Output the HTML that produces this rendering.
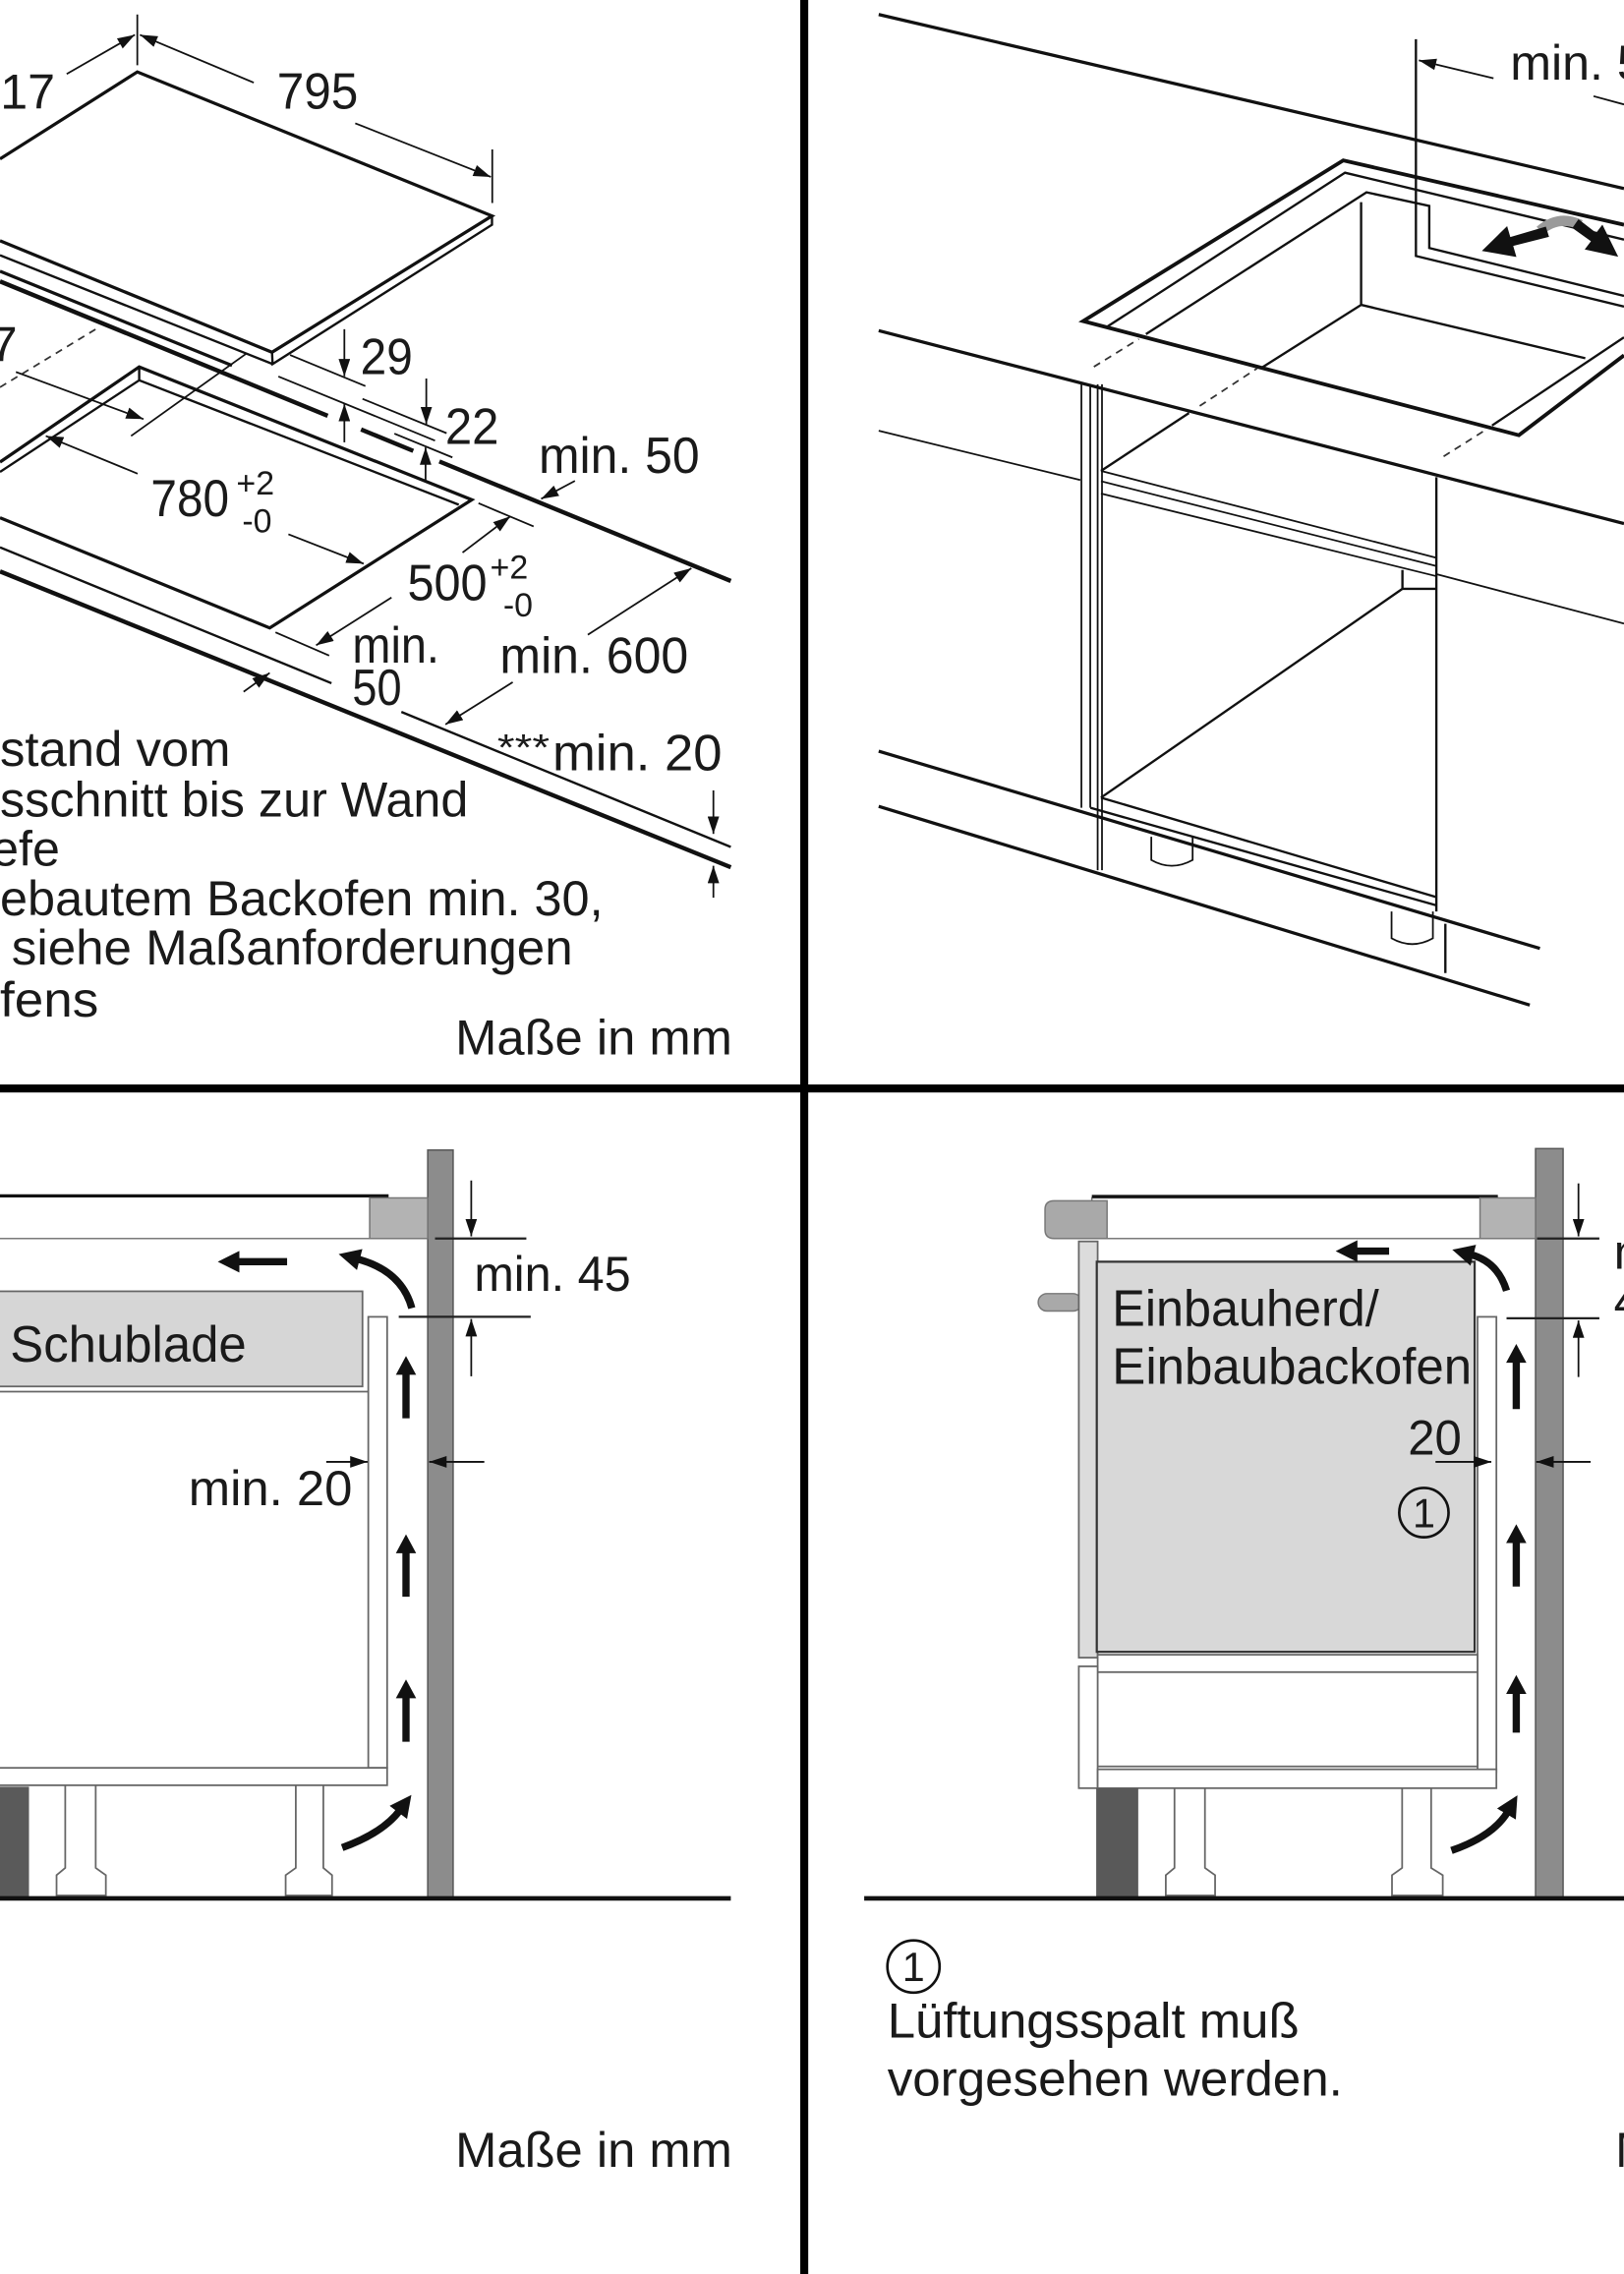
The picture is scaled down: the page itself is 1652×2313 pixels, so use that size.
<!DOCTYPE html>
<html><head><meta charset="utf-8"><style>
html,body{margin:0;padding:0;background:#fff;}
svg{display:block;}
text{font-family:"Liberation Sans",Arial,sans-serif;fill:#1a1a1a;}
.l{stroke:#111;fill:none;stroke-width:2.2;}
.m{stroke:#111;fill:none;stroke-width:1.6;}
.t{stroke:#111;fill:none;stroke-width:1.2;}
.k{stroke:#111;fill:none;stroke-width:3;}
.d{stroke:#333;fill:none;stroke-width:1.2;stroke-dasharray:5 4;}
.g{stroke:#666;stroke-width:1.2;}
</style></head><body>
<svg xmlns="http://www.w3.org/2000/svg" width="1652" height="2313" viewBox="0 0 1120 1568" preserveAspectRatio="none">
<defs>
<marker id="ah" viewBox="0 0 12 8" refX="12" refY="4" markerWidth="12" markerHeight="8" markerUnits="userSpaceOnUse" orient="auto"><path d="M0,0 L12,4 L0,8 Z" fill="#111"/></marker>
<marker id="bh" viewBox="0 0 14 14" refX="2" refY="7" markerWidth="15" markerHeight="15" markerUnits="userSpaceOnUse" orient="auto"><path d="M0,0 L14,7 L0,14 Z" fill="#111"/></marker>
</defs>
<rect x="0" y="0" width="1120" height="1568" fill="#fff"/>

<!-- ============ TOP LEFT ============ -->
<path class="l" d="M0,109.6 L94.7,49.6 L339.3,148.9 L187.6,242.9 L0,166"/>
<path class="m" d="M339.3,148.9 L339.3,155 L188,251 L187.6,242.9 M188,251 L0,176"/>
<path class="l" d="M0,187 L160,252"/>
<path class="k" d="M0,194 L226,286.7 M249,296.1 L285,310.9 M303,318.2 L504,400.6"/>
<path class="t" d="M200,244.8 L252,266.2 M192,259.6 L300,303.8 M250,275 L308,298.7 M272,299 L312,315.4"/>
<line class="t" x1="237.5" y1="227" x2="237.5" y2="259.5" marker-end="url(#ah)"/>
<line class="t" x1="237.5" y1="305" x2="237.5" y2="278.5" marker-end="url(#ah)"/>
<line class="t" x1="294" y1="261" x2="294" y2="292.5" marker-end="url(#ah)"/>
<line class="t" x1="293.5" y1="332" x2="293.5" y2="308.5" marker-end="url(#ah)"/>
<path class="t" d="M94.7,10 L94.7,45 M339.5,103 L339.5,140"/>
<line class="t" x1="46" y1="51" x2="93" y2="24" marker-end="url(#ah)"/>
<line class="t" x1="175" y1="57" x2="96.5" y2="24" marker-end="url(#ah)"/>
<line class="t" x1="245" y1="85" x2="338.5" y2="122" marker-end="url(#ah)"/>
<path class="d" d="M0,267 L66,227"/>
<path class="t" d="M90.4,300.6 L169.5,244.1"/>
<line class="t" x1="11" y1="256.5" x2="99" y2="289" marker-end="url(#ah)"/>
<path class="l" d="M0,318.6 L96,253 L325.4,344.6 L186,433 L0,357"/>
<path class="m" d="M0,325.4 L96,262.2 L316.4,348 M96,253 L96,262.2"/>
<line class="t" x1="94.9" y1="326.6" x2="31.6" y2="300.6" marker-end="url(#ah)"/>
<line class="t" x1="198.9" y1="368.4" x2="250.8" y2="388.7" marker-end="url(#ah)"/>
<path class="t" d="M190,436 L227,452 M330,347 L368,363"/>
<line class="t" x1="270" y1="412" x2="218" y2="445" marker-end="url(#ah)"/>
<line class="t" x1="319" y1="381" x2="352" y2="356" marker-end="url(#ah)"/>
<line class="t" x1="396.5" y1="331.6" x2="373.2" y2="344" marker-end="url(#ah)"/>
<line class="t" x1="168" y1="477" x2="186" y2="464" marker-end="url(#ah)"/>
<line class="t" x1="405.4" y1="437.7" x2="476.8" y2="391.8" marker-end="url(#ah)"/>
<line class="t" x1="353.6" y1="470.4" x2="307.2" y2="499.5" marker-end="url(#ah)"/>
<path class="m" d="M0,377.4 L228.6,471.1 M276.8,490.9 L504,584"/>
<path class="k" d="M0,394 L504,598"/>
<line class="t" x1="492" y1="545" x2="492" y2="575" marker-end="url(#ah)"/>
<line class="t" x1="492" y1="619" x2="492" y2="597" marker-end="url(#ah)"/>
<text x="38" y="75" font-size="34" text-anchor="end">517</text>
<text x="191" y="75" font-size="35" textLength="56" lengthAdjust="spacingAndGlyphs">795</text>
<text x="248.6" y="258" font-size="35" textLength="36" lengthAdjust="spacingAndGlyphs">29</text>
<text x="307" y="306" font-size="35" textLength="37" lengthAdjust="spacingAndGlyphs">22</text>
<text x="371.5" y="326" font-size="35" textLength="111" lengthAdjust="spacingAndGlyphs">min. 50</text>
<text x="-7" y="249" font-size="34">7</text>
<text x="104" y="356" font-size="36" textLength="54" lengthAdjust="spacingAndGlyphs">780</text>
<text x="163" y="341" font-size="23">+2</text>
<text x="167" y="367" font-size="23">-0</text>
<text x="281" y="414" font-size="35" textLength="55" lengthAdjust="spacingAndGlyphs">500</text>
<text x="338" y="399" font-size="23">+2</text>
<text x="347" y="425" font-size="23">-0</text>
<text x="243" y="457" font-size="35" textLength="60" lengthAdjust="spacingAndGlyphs">min.</text>
<text x="243" y="486" font-size="35" textLength="34" lengthAdjust="spacingAndGlyphs">50</text>
<text x="344.7" y="464" font-size="35" textLength="130" lengthAdjust="spacingAndGlyphs">min. 600</text>
<text x="343" y="524" font-size="26" textLength="36" lengthAdjust="spacingAndGlyphs">***</text>
<text x="381" y="531" font-size="35" textLength="117" lengthAdjust="spacingAndGlyphs">min. 20</text>
<text x="0" y="528" font-size="34" textLength="159" lengthAdjust="spacingAndGlyphs">stand vom</text>
<text x="0" y="563" font-size="34" textLength="323" lengthAdjust="spacingAndGlyphs">sschnitt bis zur Wand</text>
<text x="-6" y="597" font-size="34">efe</text>
<text x="0" y="631" font-size="34" textLength="416" lengthAdjust="spacingAndGlyphs">ebautem Backofen min. 30,</text>
<text x="8" y="665" font-size="34" textLength="387" lengthAdjust="spacingAndGlyphs">siehe Maßanforderungen</text>
<text x="0" y="701" font-size="34" textLength="68" lengthAdjust="spacingAndGlyphs">fens</text>
<text x="314" y="727" font-size="34" textLength="191" lengthAdjust="spacingAndGlyphs">Maße in mm</text>

<!-- ============ TOP RIGHT ============ -->
<path class="l" d="M606,10 L1120,130"/>
<path class="l" d="M606,228 L1120,361"/>
<path class="t" d="M606,297 L745,331 M991,396 L1120,430"/>
<path class="l" d="M606,518 L1062,654 M606,556 L1055,693"/>
<path stroke="#111" fill="none" stroke-width="2.6" d="M1120,155 L926.4,110.6 L747,221.4 L1047.5,300.1 L1120,245"/>
<path class="m" d="M764,225 L927.6,119.1 L1120,165.2"/>
<path class="m" d="M790.3,230.4 L942.4,132.6 L985.7,142 L985.7,171 L1120,204"/>
<path class="m" d="M976.5,27 L976.5,176.5 L1120,211.4"/>
<path class="m" d="M938.7,139.4 L938.7,210.2 L869.5,254 M938.7,210.2 L1093.3,247 M1029,293.4 L1120,232.6"/>
<path class="d" d="M754.4,252.9 L785.4,233.8 M827.4,279.9 L867,254 M995.6,314.7 L1024,296.8"/>
<line class="t" x1="1030" y1="54" x2="978.5" y2="41.6" marker-end="url(#ah)"/>
<path class="t" d="M1099,66.3 L1120,72"/>
<text x="1041.5" y="55" font-size="34">min. 50</text>
<path d="M1062,159 Q1075,148 1090,155" stroke="#9a9a9a" stroke-width="7" fill="none"/>
<polygon fill="#111" points="1066.1,156.3 1041.6,163.5 1039.4,155.9 1022,173 1045.8,177.2 1043.6,169.6 1068.3,163.3"/>
<polygon fill="#111" points="1088.6,151.2 1100.8,160.6 1105.1,154.9 1116,177 1092.9,172 1097.2,166.3 1084.4,157.2"/>
<path class="m" d="M820,284.8 L759.3,324.7"/>
<path class="t" d="M759.3,324.7 L990.6,384.6 M759.3,331.8 L990.6,390.3 M759.3,340.3 L990.6,397.3"/>
<path class="m" d="M967.2,393 L967.2,406 L990.6,406 M967.2,406 L759.3,550"/>
<path class="m" d="M759.3,550 L990.6,618.6 M752,557 L990.6,624.3"/>
<path class="t" d="M745.8,264 L745.8,557 M751.9,265 L751.9,557 M757,265 L757,600 M760,265 L760,600"/>
<path class="m" d="M990.6,329 L990.6,628.5 M996.8,637 L996.8,671"/>
<path class="t" d="M794,577 L794,593 Q808,601 822.5,593 L822.5,577 M959.7,628.5 L959.7,647 Q974,655 988.2,647 L988.2,628.5"/>

<!-- ============ BOTTOM LEFT ============ -->
<rect x="295" y="793" width="17.5" height="516" fill="#8c8c8c" stroke="#555" stroke-width="1"/>
<rect x="-2" y="825" width="257" height="29" fill="#fff" stroke="#777" stroke-width="1"/>
<path stroke="#111" stroke-width="2.2" d="M0,824.6 L268,824.6"/>
<rect x="255" y="826" width="40" height="28" fill="#b3b3b3" stroke="#777" stroke-width="1"/>
<rect x="-2" y="890.4" width="252" height="65.6" fill="#d6d6d6" class="g"/>
<path class="g" d="M0,959.6 L254,959.6"/>
<rect x="254" y="908" width="13" height="311" fill="#fff" class="g"/>
<rect x="-2" y="1219" width="269" height="12" fill="#fff" class="g"/>
<polygon fill="#fff" class="g" points="45,1231 45,1288 39,1293 39,1307 73,1307 73,1293 66,1288 66,1231"/>
<polygon fill="#fff" class="g" points="204,1231 204,1288 197,1293 197,1307 229,1307 229,1293 223,1288 223,1231"/>
<rect x="-2" y="1232" width="22" height="76" fill="#5a5a5a"/>
<path stroke="#111" stroke-width="3.2" d="M0,1309 L504,1309"/>
<line x1="198" y1="870" x2="163" y2="870" stroke="#111" stroke-width="5" marker-end="url(#bh)"/>
<path d="M284,902 Q277,876 246,868" stroke="#111" stroke-width="5" fill="none" marker-end="url(#bh)"/>
<path d="M236,1274 Q264,1264 276,1248" stroke="#111" stroke-width="5" fill="none" marker-end="url(#bh)"/>
<path fill="#111" d="M277.5,978 L282.5,978 L282.5,948 L287,948 L280,935 L273,948 L277.5,948 Z"/>
<path fill="#111" d="M277.5,1101 L282.5,1101 L282.5,1071 L287,1071 L280,1058 L273,1071 L277.5,1071 Z"/>
<path fill="#111" d="M277.5,1201 L282.5,1201 L282.5,1171 L287,1171 L280,1158 L273,1171 L277.5,1171 Z"/>
<path stroke="#222" stroke-width="1.5" d="M300,854 L363,854 M275,908 L366,908"/>
<line class="t" x1="325" y1="814" x2="325" y2="852.5" marker-end="url(#ah)"/>
<line class="t" x1="325" y1="949" x2="325" y2="909.5" marker-end="url(#ah)"/>
<line class="t" x1="225" y1="1008" x2="253.5" y2="1008" marker-end="url(#ah)"/>
<line class="t" x1="334" y1="1008" x2="296" y2="1008" marker-end="url(#ah)"/>
<text x="7" y="939" font-size="35" textLength="163" lengthAdjust="spacingAndGlyphs">Schublade</text>
<text x="327" y="890" font-size="34" textLength="108" lengthAdjust="spacingAndGlyphs">min. 45</text>
<text x="130" y="1038" font-size="34" textLength="113" lengthAdjust="spacingAndGlyphs">min. 20</text>
<text x="314" y="1494" font-size="34" textLength="191" lengthAdjust="spacingAndGlyphs">Maße in mm</text>

<!-- ============ BOTTOM RIGHT ============ -->
<rect x="1059" y="792" width="19" height="517" fill="#8c8c8c" stroke="#555" stroke-width="1"/>
<rect x="753" y="826" width="280" height="28" fill="#fff" stroke="#777" stroke-width="1"/>
<path stroke="#111" stroke-width="2.2" d="M753,825 L1033,825"/>
<path d="M727,828 L763.5,828 L763.5,854 L727,854 Q720.7,854 720.7,848 L720.7,834 Q720.7,828 727,828 Z" fill="#a9a9a9" stroke="#777" stroke-width="1"/>
<rect x="1020.7" y="826" width="38.3" height="28" fill="#b3b3b3" stroke="#777" stroke-width="1"/>
<rect x="716" y="892" width="30" height="12" rx="6" fill="#a9a9a9" stroke="#777" stroke-width="1"/>
<rect x="744" y="856" width="13" height="287" fill="#dcdcdc" class="g"/>
<rect x="756.4" y="870" width="260.6" height="269" fill="#d8d8d8" stroke="#333" stroke-width="1.5"/>
<rect x="1019" y="908" width="13" height="314" fill="#fff" class="g"/>
<rect x="757" y="1141" width="262" height="12" fill="#fff" class="g"/>
<rect x="757" y="1153" width="262" height="65" fill="#fff" class="g"/>
<rect x="744" y="1149" width="13" height="84" fill="#fff" class="g"/>
<rect x="757" y="1220" width="275" height="13" fill="#fff" class="g"/>
<polygon fill="#fff" class="g" points="810,1233 810,1288 804,1293 804,1307 838,1307 838,1293 831,1288 831,1233"/>
<polygon fill="#fff" class="g" points="967,1233 967,1288 960,1293 960,1307 995,1307 995,1293 987,1288 987,1233"/>
<rect x="756" y="1233" width="29" height="76" fill="#595959"/>
<path stroke="#111" stroke-width="3.2" d="M596,1309 L1120,1309"/>
<line x1="958" y1="862.7" x2="934" y2="862.7" stroke="#111" stroke-width="5" marker-end="url(#bh)"/>
<path d="M1039,890 Q1033,870 1014,865" stroke="#111" stroke-width="5" fill="none" marker-end="url(#bh)"/>
<path d="M1001,1276 Q1030,1266 1040,1249" stroke="#111" stroke-width="5" fill="none" marker-end="url(#bh)"/>
<path fill="#111" d="M1043.2,971.6 L1048.2,971.6 L1048.2,939.7 L1052.7,939.7 L1045.7,926.7 L1038.7,939.7 L1043.2,939.7 Z"/>
<path fill="#111" d="M1043.2,1094 L1048.2,1094 L1048.2,1064 L1052.7,1064 L1045.7,1051 L1038.7,1064 L1043.2,1064 Z"/>
<path fill="#111" d="M1043.2,1194.7 L1048.2,1194.7 L1048.2,1168 L1052.7,1168 L1045.7,1155 L1038.7,1168 L1043.2,1168 Z"/>
<path stroke="#222" stroke-width="1.5" d="M1060,854 L1103,854 M1039,909 L1103,909"/>
<line class="t" x1="1088.6" y1="816" x2="1088.6" y2="852.5" marker-end="url(#ah)"/>
<line class="t" x1="1088.6" y1="949.5" x2="1088.6" y2="910.5" marker-end="url(#ah)"/>
<line class="t" x1="990" y1="1008" x2="1028.5" y2="1008" marker-end="url(#ah)"/>
<line class="t" x1="1097" y1="1008" x2="1059.5" y2="1008" marker-end="url(#ah)"/>
<text x="767" y="914" font-size="35" textLength="184" lengthAdjust="spacingAndGlyphs">Einbauherd/</text>
<text x="767" y="954" font-size="35" textLength="248" lengthAdjust="spacingAndGlyphs">Einbaubackofen</text>
<text x="971" y="1003" font-size="34" textLength="37" lengthAdjust="spacingAndGlyphs">20</text>
<circle cx="982" cy="1043" r="17" fill="none" stroke="#111" stroke-width="1.8"/>
<text x="982" y="1053" font-size="28" text-anchor="middle">1</text>
<text x="1113" y="875" font-size="34">min.</text>
<text x="1113" y="909" font-size="34">45</text>
<circle cx="630" cy="1356" r="18" fill="none" stroke="#111" stroke-width="1.8"/>
<text x="630" y="1366" font-size="28" text-anchor="middle">1</text>
<text x="612" y="1405" font-size="34" textLength="284" lengthAdjust="spacingAndGlyphs">Lüftungsspalt muß</text>
<text x="612" y="1445" font-size="34" textLength="314" lengthAdjust="spacingAndGlyphs">vorgesehen werden.</text>
<text x="1114" y="1494" font-size="34">Maße in mm</text>

<!-- ============ DIVIDERS ============ -->
<rect x="551.9" y="0" width="5.5" height="1568" fill="#000"/>
<rect x="0" y="747.8" width="1120" height="5.5" fill="#000"/>
</svg>
</body></html>
